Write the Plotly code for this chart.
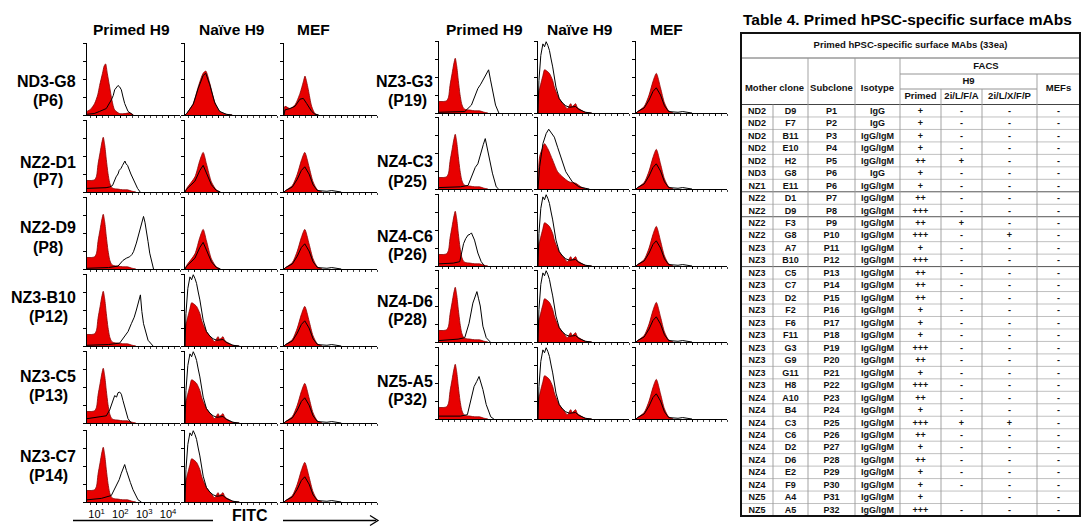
import plotly.graph_objects as go

W, H = 1092, 528
FONT = "Arial, Liberation Sans, sans-serif"

# ---------------- histogram data: x = log10 FITC intensity, y = % of max count
# Primed H9 isotype control (red filled)
PRIM_RED_P6_X = [0.60, 0.75, 0.92, 1.05, 1.13, 1.25, 1.32, 1.38, 1.45, 1.55, 1.65, 1.76, 1.97, 2.20, 2.39, 2.55]
PRIM_RED_P6_Y = [5, 8, 16, 28, 41, 58, 68, 71, 58, 39, 20, 7, 2, 2, 3, 0]
PRIM_RED_X = [0.60, 0.80, 0.92, 1.00, 1.06, 1.15, 1.22, 1.28, 1.34, 1.41, 1.48, 1.55, 1.62, 1.70, 1.90, 2.10, 2.30, 2.50, 2.65]
PRIM_RED_Y = [16, 16, 17, 22, 38, 55, 68, 76, 66, 45, 26, 13, 7, 5, 4, 3, 3, 1, 0]

# Primed H9 stained with each mAb (black outline)
PRIM_P6_X = [0.60, 0.90, 1.13, 1.41, 1.62, 1.70, 1.76, 1.84, 1.90, 1.97, 2.04, 2.11, 2.18, 2.32, 2.53]
PRIM_P6_Y = [1, 2, 5, 9, 21, 27, 35, 38, 41, 39, 35, 25, 16, 5, 0]
PRIM_P7_X = [0.60, 1.00, 1.40, 1.55, 1.67, 1.82, 1.90, 1.95, 2.03, 2.09, 2.14, 2.19, 2.24, 2.30, 2.44, 2.58, 2.72, 2.83]
PRIM_P7_Y = [5, 5, 6, 7, 9, 21, 25, 30, 33, 37, 40, 43, 39, 37, 25, 14, 5, 0]
PRIM_P8_X = [0.60, 1.50, 1.90, 2.11, 2.25, 2.39, 2.48, 2.55, 2.67, 2.80, 2.88, 2.97, 3.03, 3.09, 3.16, 3.23, 3.39]
PRIM_P8_Y = [1, 2, 4, 12, 15, 17, 20, 24, 36, 52, 64, 73, 65, 54, 38, 22, 0]
PRIM_P12_X = [0.60, 1.50, 1.97, 2.18, 2.32, 2.46, 2.58, 2.67, 2.76, 2.84, 2.90, 2.97, 3.16, 3.37]
PRIM_P12_Y = [1, 2, 4, 13, 20, 31, 40, 50, 60, 71, 48, 31, 8, 0]
PRIM_P13_X = [0.60, 1.00, 1.41, 1.55, 1.62, 1.70, 1.76, 1.84, 1.90, 1.97, 2.04, 2.11, 2.18, 2.32, 2.46]
PRIM_P13_Y = [6, 8, 10, 18, 25, 33, 38, 36, 42, 43, 40, 31, 22, 6, 0]
PRIM_P14_X = [0.60, 1.20, 1.62, 1.83, 1.95, 2.04, 2.11, 2.18, 2.25, 2.32, 2.42, 2.53, 2.74, 2.88]
PRIM_P14_Y = [3, 5, 9, 22, 31, 40, 46, 52, 44, 36, 27, 17, 3, 0]
PRIM_P19_X = [0.60, 1.40, 1.68, 1.96, 2.10, 2.23, 2.35, 2.44, 2.56, 2.68, 2.76, 2.84, 2.97, 3.11]
PRIM_P19_Y = [1, 2, 2, 11, 22, 34, 40, 46, 52, 60, 46, 32, 11, 0]
PRIM_P25_X = [0.60, 1.50, 1.82, 2.02, 2.12, 2.23, 2.37, 2.46, 2.54, 2.62, 2.70, 2.84, 3.00, 3.10]
PRIM_P25_Y = [2, 3, 5, 22, 30, 35, 54, 62, 70, 58, 44, 22, 3, 0]
PRIM_P26_X = [0.60, 1.20, 1.47, 1.63, 1.72, 1.82, 1.90, 1.96, 2.09, 2.23, 2.37, 2.51]
PRIM_P26_Y = [3, 4, 6, 31, 38, 43, 44, 46, 36, 18, 6, 0]
PRIM_P28_X = [0.60, 1.40, 1.68, 1.86, 2.02, 2.12, 2.19, 2.26, 2.33, 2.44, 2.58, 2.75]
PRIM_P28_Y = [2, 4, 6, 26, 54, 64, 70, 60, 50, 22, 6, 0]
PRIM_P32_X = [0.60, 1.50, 1.79, 1.93, 2.07, 2.18, 2.28, 2.36, 2.44, 2.58, 2.77, 2.90]
PRIM_P32_Y = [4, 4, 6, 25, 45, 52, 59, 50, 41, 20, 3, 0]

# Naive H9 (red = control, black = mAb)
NAIVE_RED_A_X = [0.60, 0.67, 0.95, 1.16, 1.37, 1.48, 1.65, 1.86, 2.07, 2.35, 2.60]
NAIVE_RED_A_Y = [0, 2, 16, 39, 58, 61, 44, 18, 5, 1, 0]
NAIVE_BLK_A_X = [0.60, 0.67, 0.95, 1.16, 1.37, 1.48, 1.65, 1.86, 2.07, 2.35, 2.60]
NAIVE_BLK_A_Y = [0, 2, 15, 37, 55, 58, 42, 17, 5, 1, 0]
NAIVE_RED_B_X = [0.60, 0.67, 1.02, 1.23, 1.37, 1.51, 1.72, 1.93, 2.10]
NAIVE_RED_B_Y = [0, 5, 21, 44, 55, 39, 14, 3, 0]
NAIVE_BLK_B_X = [0.60, 0.67, 1.02, 1.23, 1.37, 1.51, 1.72, 1.93, 2.10]
NAIVE_BLK_B_Y = [0, 4, 15, 30, 37, 27, 10, 2, 0]
NAIVE_RED_C_X = [0.60, 0.64, 0.67, 0.81, 0.88, 0.95, 1.09, 1.23, 1.30, 1.37, 1.51, 1.72, 1.86, 2.00, 2.07, 2.14, 2.21, 2.28, 2.35, 2.63, 2.90]
NAIVE_RED_C_Y = [0, 30, 34, 52, 60, 59, 55, 45, 36, 30, 20, 11, 6, 13, 9, 11, 13, 8, 6, 1, 0]
NAIVE_BLK_C_X = [0.60, 0.64, 0.72, 0.81, 0.88, 0.95, 1.02, 1.09, 1.16, 1.23, 1.37, 1.51, 1.65, 1.79, 1.95, 2.07, 2.21, 2.35, 2.63, 2.90]
NAIVE_BLK_C_Y = [0, 45, 80, 96, 92, 99, 94, 87, 75, 64, 36, 20, 14, 10, 8, 8, 9, 5, 1, 0]
NAIVE_RED_D_X = [0.60, 0.67, 0.81, 0.88, 1.02, 1.23, 1.44, 1.65, 1.93, 2.21, 2.49, 2.70]
NAIVE_RED_D_Y = [0, 45, 58, 63, 56, 40, 24, 17, 10, 8, 2, 0]
NAIVE_BLK_D_X = [0.60, 0.67, 0.81, 0.95, 1.06, 1.16, 1.30, 1.44, 1.58, 1.79, 2.07, 2.35, 2.63, 2.80]
NAIVE_BLK_D_Y = [0, 31, 63, 77, 83, 79, 72, 58, 45, 24, 10, 3, 1, 0]

# MEF (red = control, black = mAb)
MEF_RED_A_X = [0.60, 0.64, 0.85, 1.06, 1.27, 1.41, 1.48, 1.55, 1.62, 1.76, 1.90, 2.05]
MEF_RED_A_Y = [0, 12, 9, 14, 30, 46, 54, 46, 35, 12, 2, 0]
MEF_BLK_A_X = [0.60, 0.64, 0.85, 1.06, 1.27, 1.41, 1.55, 1.76, 1.90, 2.05]
MEF_BLK_A_Y = [0, 7, 9, 12, 22, 23, 16, 5, 1, 0]
MEF_RED_X = [0.60, 0.67, 0.95, 1.16, 1.33, 1.47, 1.65, 1.82, 2.00, 2.20]
MEF_RED_Y = [0, 2, 9, 25, 44, 55, 35, 14, 3, 0]
MEF_BLK_X = [0.60, 0.67, 0.95, 1.16, 1.33, 1.47, 1.65, 1.82, 2.00, 2.40, 2.60, 2.80, 3.00]
MEF_BLK_Y = [0, 2, 7, 18, 30, 35, 25, 10, 2, 1, 2, 1, 0]

# ---------------- labels
COLUMN_TITLES = ["Primed H9", "Naïve H9", "MEF"]
LEFT_CLONES = ["ND3-G8", "NZ2-D1", "NZ2-D9", "NZ3-B10", "NZ3-C5", "NZ3-C7"]
LEFT_SUBCLONES = ["(P6)", "(P7)", "(P8)", "(P12)", "(P13)", "(P14)"]
MID_CLONES = ["NZ3-G3", "NZ4-C3", "NZ4-C6", "NZ4-D6", "NZ5-A5"]
MID_SUBCLONES = ["(P19)", "(P25)", "(P26)", "(P28)", "(P32)"]
TICK_VALUES = [1, 2, 3, 4]
TICK_LABELS = ["10<sup>1</sup>", "10<sup>2</sup>", "10<sup>3</sup>", "10<sup>4</sup>"]
AXIS_TITLE = "FITC"

# ---------------- table data
TABLE_TITLE = "Table 4. Primed hPSC-specific surface mAbs"
TABLE_CAPTION = "Primed hPSC-specific surface MAbs (33ea)"
MOTHER_A = ["ND2", "ND2", "ND2", "ND2", "ND2", "ND3", "NZ1", "NZ2", "NZ2", "NZ2", "NZ2",
            "NZ3", "NZ3", "NZ3", "NZ3", "NZ3", "NZ3", "NZ3", "NZ3", "NZ3", "NZ3", "NZ3", "NZ3",
            "NZ4", "NZ4", "NZ4", "NZ4", "NZ4", "NZ4", "NZ4", "NZ4", "NZ5", "NZ5"]
MOTHER_B = ["D9", "F7", "B11", "E10", "H2", "G8", "E11", "D1", "D9", "F3", "G8",
            "A7", "B10", "C5", "C7", "D2", "F2", "F6", "F11", "G3", "G9", "G11", "H8",
            "A10", "B4", "C3", "C6", "D2", "D6", "E2", "F9", "A4", "A5"]
SUBCLONE = ["P1", "P2", "P3", "P4", "P5", "P6", "P6", "P7", "P8", "P9", "P10",
            "P11", "P12", "P13", "P14", "P15", "P16", "P17", "P18", "P19", "P20", "P21", "P22",
            "P23", "P24", "P25", "P26", "P27", "P28", "P29", "P30", "P31", "P32"]
ISOTYPE = ["IgG", "IgG"] + ["IgG/IgM"] * 3 + ["IgG"] + ["IgG/IgM"] * 27
PRIMED = ["+", "+", "+", "+", "++", "+", "+", "++", "+++", "++", "+++",
          "+", "+++", "++", "++", "++", "+", "+", "+", "+++", "++", "+", "+++",
          "++", "+", "+++", "++", "+", "++", "+", "+", "+", "+++"]
NAIVE_LFA = ["-", "-", "-", "-", "+", "-", "-", "-", "-", "+", "-",
             "-", "-", "-", "-", "-", "-", "-", "-", "-", "-", "-", "-",
             "-", "-", "+", "-", "-", "-", "-", "-", "", "-"]
NAIVE_LXFP = ["-", "-", "-", "-", "-", "-", "-", "-", "-", "-", "+",
              "-", "-", "-", "-", "-", "-", "-", "-", "-", "-", "-", "-",
              "-", "-", "+", "-", "-", "-", "-", "-", "-", "-"]
MEFS = ["-"] * 33

# ---------------- layout geometry (pixels)
LEFT_COL_X = [(87, 180), (185, 277), (284, 377)]
MID_COL_X = [(439, 532), (538, 629), (636, 727)]
LEFT_ROW_BOTTOM = [115, 192, 269, 346, 423, 502]
MID_ROW_BOTTOM = [113, 189, 266, 342, 419]
PANEL_H = 72
LEFT_HEAD_X = [131, 232, 313]
MID_HEAD_X = [484, 580, 666]
LEFT_LABEL_Y = [(82, 100), (162, 180), (227, 247), (297, 316), (376, 395), (456, 475)]
MID_LABEL_Y = [(81, 100), (161, 181), (236, 254), (301, 319), (381, 399)]

RED_FILL = "#e80000"
RED_EDGE = "#8c0000"

PRIM_BLACKS_LEFT = [(PRIM_P6_X, PRIM_P6_Y), (PRIM_P7_X, PRIM_P7_Y), (PRIM_P8_X, PRIM_P8_Y),
                    (PRIM_P12_X, PRIM_P12_Y), (PRIM_P13_X, PRIM_P13_Y), (PRIM_P14_X, PRIM_P14_Y)]
PRIM_BLACKS_MID = [(PRIM_P19_X, PRIM_P19_Y), (PRIM_P25_X, PRIM_P25_Y), (PRIM_P26_X, PRIM_P26_Y),
                   (PRIM_P28_X, PRIM_P28_Y), (PRIM_P32_X, PRIM_P32_Y)]

A = (NAIVE_RED_A_X, NAIVE_RED_A_Y, NAIVE_BLK_A_X, NAIVE_BLK_A_Y)
B = (NAIVE_RED_B_X, NAIVE_RED_B_Y, NAIVE_BLK_B_X, NAIVE_BLK_B_Y)
C = (NAIVE_RED_C_X, NAIVE_RED_C_Y, NAIVE_BLK_C_X, NAIVE_BLK_C_Y)
D = (NAIVE_RED_D_X, NAIVE_RED_D_Y, NAIVE_BLK_D_X, NAIVE_BLK_D_Y)
MA = (MEF_RED_A_X, MEF_RED_A_Y, MEF_BLK_A_X, MEF_BLK_A_Y)
MB = (MEF_RED_X, MEF_RED_Y, MEF_BLK_X, MEF_BLK_Y)

LEFT_PANELS = []
for i, (bx, by) in enumerate(PRIM_BLACKS_LEFT):
    red = (PRIM_RED_P6_X, PRIM_RED_P6_Y) if i == 0 else (PRIM_RED_X, PRIM_RED_Y)
    naive = [A, B, B, C, C, C][i]
    mef = MA if i == 0 else MB
    LEFT_PANELS.append([(red[0], red[1], bx, by), naive, mef])
MID_PANELS = []
for i, (bx, by) in enumerate(PRIM_BLACKS_MID):
    naive = [C, D, C, C, C][i]
    MID_PANELS.append([(PRIM_RED_X, PRIM_RED_Y, bx, by), naive, MB])

fig = go.Figure()
layout = dict(width=W, height=H, margin=dict(l=0, r=0, t=0, b=0),
              paper_bgcolor="white", plot_bgcolor="rgba(0,0,0,0)",
              showlegend=False, font=dict(family=FONT, color="black"))


def px_x(v):
    return v / W


def px_y(v):
    return 1 - v / H


n = 0


def add_panel(x0, x1, bottom, data, labels=False):
    global n
    n += 1
    rx, ry, bx, by = data
    xa, ya = f"x{n}", f"y{n}"
    fig.add_trace(go.Scatter(x=rx, y=ry, mode="lines", fill="tozeroy", fillcolor=RED_FILL,
                             line=dict(color=RED_EDGE, width=0.8, shape="spline", smoothing=0.7),
                             xaxis=xa, yaxis=ya, hoverinfo="skip"))
    fig.add_trace(go.Scatter(x=bx, y=by, mode="lines",
                             line=dict(color="black", width=1),
                             xaxis=xa, yaxis=ya, hoverinfo="skip"))
    layout[f"xaxis{n}"] = dict(domain=[px_x(x0), px_x(x1)], anchor=ya, range=[0.6, 4.5],
                               showline=True, linecolor="black", linewidth=1, showgrid=False,
                               zeroline=False, ticks="outside", ticklen=2, tickcolor="black",
                               tickmode="array", tickvals=TICK_VALUES, ticktext=TICK_LABELS,
                               showticklabels=labels,
                               tickfont=dict(size=11, family=FONT, color="black"),
                               minor=dict(ticks="outside", ticklen=1.5, dtick=0.25,
                                          tickcolor="#444"),
                               fixedrange=True)
    layout[f"yaxis{n}"] = dict(domain=[px_y(bottom), px_y(bottom - PANEL_H)], anchor=xa,
                               range=[0, 100], showline=True, linecolor="black", linewidth=1,
                               showgrid=False, zeroline=False, ticks="outside", ticklen=3,
                               tickcolor="black", tickvals=[0, 25, 50, 75, 100],
                               showticklabels=False, fixedrange=True)


for r, row in enumerate(LEFT_PANELS):
    for c, data in enumerate(row):
        add_panel(LEFT_COL_X[c][0], LEFT_COL_X[c][1], LEFT_ROW_BOTTOM[r], data,
                  labels=(r == len(LEFT_PANELS) - 1 and c == 0))
for r, row in enumerate(MID_PANELS):
    for c, data in enumerate(row):
        add_panel(MID_COL_X[c][0], MID_COL_X[c][1], MID_ROW_BOTTOM[r], data)

annotations = []


def text(x, y, s, size, xanchor="center", bold=True):
    annotations.append(dict(x=px_x(x), y=px_y(y), xref="paper", yref="paper",
                            text=f"<b>{s}</b>" if bold else s, showarrow=False,
                            xanchor=xanchor, yanchor="middle",
                            font=dict(size=size, family=FONT, color="black")))


for c, t in enumerate(COLUMN_TITLES):
    text(LEFT_HEAD_X[c], 29, t, 15.5)
    text(MID_HEAD_X[c], 29, t, 15.5)
for i, (name, sub) in enumerate(zip(LEFT_CLONES, LEFT_SUBCLONES)):
    text(78, LEFT_LABEL_Y[i][0], name, 16, xanchor="right")
    text(48, LEFT_LABEL_Y[i][1], sub, 16)
for i, (name, sub) in enumerate(zip(MID_CLONES, MID_SUBCLONES)):
    text(435, MID_LABEL_Y[i][0], name, 16, xanchor="right")
    text(407, MID_LABEL_Y[i][1], sub, 16)

text(250, 515.5, AXIS_TITLE, 16)
shapes = [dict(type="line", xref="paper", yref="paper", x0=px_x(73), x1=px_x(213),
               y0=px_y(520.5), y1=px_y(520.5), line=dict(color="black", width=1.3)),
          dict(type="line", xref="paper", yref="paper", x0=px_x(283), x1=px_x(376),
               y0=px_y(520.5), y1=px_y(520.5), line=dict(color="black", width=1.3)),
          dict(type="path", xref="paper", yref="paper",
               path=(f"M {px_x(370)},{px_y(515.5)} L {px_x(378)},{px_y(520.5)} "
                     f"L {px_x(370)},{px_y(525.5)}"),
               line=dict(color="black", width=1.3))]

# ---------------- table
TX = [741, 773, 808, 855, 900, 941, 982, 1037, 1080]
T_TOP, T_BOT = 33, 516
HY = [33, 58, 74, 89, 104.5]
RH = (T_BOT - HY[4]) / len(SUBCLONE)

text(907.5, 20, TABLE_TITLE, 15.5)


def hline(y, xa, xb, color, width):
    shapes.append(dict(type="line", xref="paper", yref="paper", x0=px_x(xa), x1=px_x(xb),
                       y0=px_y(y), y1=px_y(y), line=dict(color=color, width=width)))


def vline(x, ya, yb, color, width):
    shapes.append(dict(type="line", xref="paper", yref="paper", x0=px_x(x), x1=px_x(x),
                       y0=px_y(ya), y1=px_y(yb), line=dict(color=color, width=width)))


for k in range(1, len(SUBCLONE)):
    y = HY[4] + k * RH
    if k in (7, 9, 13):
        hline(y, TX[0], TX[-1], "#555555", 1)
    else:
        hline(y, TX[0], TX[-1], "#b0b0b0", 0.8)
hline(HY[1], TX[0], TX[-1], "#666666", 1)
hline(HY[2], TX[4], TX[-1], "#888888", 0.9)
hline(HY[3], TX[4], TX[7], "#888888", 0.9)
hline(HY[4], TX[0], TX[-1], "#444444", 1.2)
vline(TX[1], HY[4], T_BOT, "#999999", 0.9)
for xv in TX[2:5]:
    vline(xv, HY[1], T_BOT, "#999999", 0.9)
for xv in TX[5:7]:
    vline(xv, HY[3], T_BOT, "#999999", 0.9)
vline(TX[7], HY[2], T_BOT, "#999999", 0.9)
shapes.append(dict(type="rect", xref="paper", yref="paper", x0=px_x(TX[0]), x1=px_x(TX[-1]),
                   y0=px_y(T_BOT), y1=px_y(T_TOP), line=dict(color="#111111", width=2)))

hx, hy, ht = [], [], []


def cell(x, y, s, xs, ys, ts):
    if not s:
        return
    xs.append(x)
    ys.append(y)
    ts.append(f"<b>{s}</b>")


cell((TX[0] + TX[-1]) / 2, 45.5, TABLE_CAPTION, hx, hy, ht)
cell((TX[0] + TX[2]) / 2, 89, "Mother clone", hx, hy, ht)
cell((TX[2] + TX[3]) / 2, 89, "Subclone", hx, hy, ht)
cell((TX[3] + TX[4]) / 2, 89, "Isotype", hx, hy, ht)
cell(986, 66.5, "FACS", hx, hy, ht)
cell((TX[4] + TX[7]) / 2, 81.5, "H9", hx, hy, ht)
cell((TX[7] + TX[8]) / 2, 89, "MEFs", hx, hy, ht)
cell((TX[4] + TX[5]) / 2, 97, "Primed", hx, hy, ht)
cell((TX[5] + TX[6]) / 2, 97, "2i/L/F/A", hx, hy, ht)
cell((TX[6] + TX[7]) / 2, 97, "2i/L/X/F/P", hx, hy, ht)

dx, dy, dt = [], [], []
columns = [MOTHER_A, MOTHER_B, SUBCLONE, ISOTYPE, PRIMED, NAIVE_LFA, NAIVE_LXFP, MEFS]
for ci, col in enumerate(columns):
    for ri, v in enumerate(col):
        cell((TX[ci] + TX[ci + 1]) / 2, HY[4] + (ri + 0.5) * RH + 0.8, v, dx, dy, dt)

fig.add_trace(go.Scatter(x=hx, y=hy, text=ht, mode="text", xaxis="x90", yaxis="y90",
                         textfont=dict(size=9.5, family=FONT, color="#111111"),
                         hoverinfo="skip"))
fig.add_trace(go.Scatter(x=dx, y=dy, text=dt, mode="text", xaxis="x90", yaxis="y90",
                         textfont=dict(size=9, family=FONT, color="#111111"),
                         hoverinfo="skip"))
layout["xaxis90"] = dict(domain=[0, 1], range=[0, W], visible=False, anchor="y90",
                         fixedrange=True)
layout["yaxis90"] = dict(domain=[0, 1], range=[H, 0], visible=False, anchor="x90",
                         fixedrange=True)

layout["annotations"] = annotations
layout["shapes"] = shapes
fig.update_layout(**layout)
fig.write_html("out.html", config={"displayModeBar": False},
               post_script="document.body.style.margin='0px';"
                           "document.body.style.overflow='hidden';")
